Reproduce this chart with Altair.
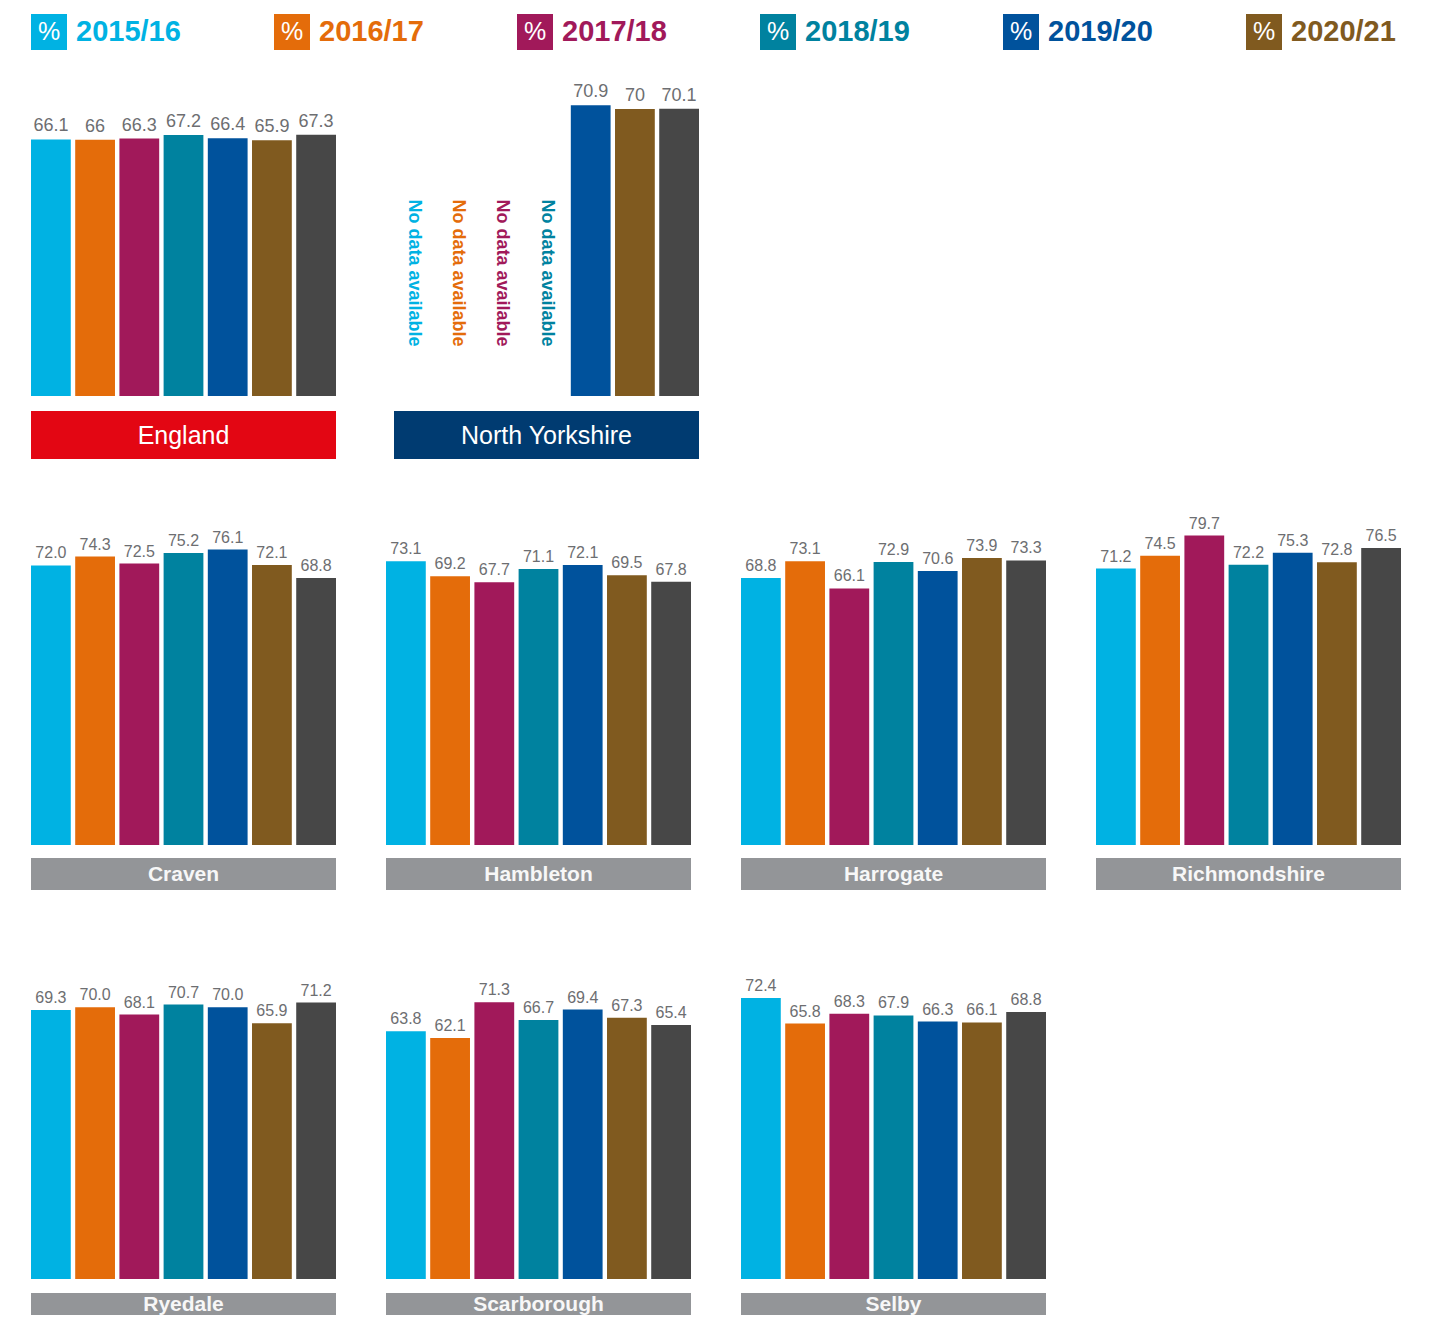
import altair as alt
import pandas as pd

# ---------------- data ----------------
years = ["2015/16", "2016/17", "2017/18", "2018/19", "2019/20", "2020/21", "2021/22"]
year_colors = ["#00B2E3", "#E46C0A", "#A1195A", "#00829F", "#00529C", "#805A1F", "#474747"]
legend_years = years[:6]

england = [66.1, 66, 66.3, 67.2, 66.4, 65.9, 67.3]
north_yorkshire = [None, None, None, None, 70.9, 70, 70.1]
craven = [72.0, 74.3, 72.5, 75.2, 76.1, 72.1, 68.8]
hambleton = [73.1, 69.2, 67.7, 71.1, 72.1, 69.5, 67.8]
harrogate = [68.8, 73.1, 66.1, 72.9, 70.6, 73.9, 73.3]
richmondshire = [71.2, 74.5, 79.7, 72.2, 75.3, 72.8, 76.5]
ryedale = [69.3, 70.0, 68.1, 70.7, 70.0, 65.9, 71.2]
scarborough = [63.8, 62.1, 71.3, 66.7, 69.4, 67.3, 65.4]
selby = [72.4, 65.8, 68.3, 67.9, 66.3, 66.1, 68.8]

no_data_text = "No data available"

# ---------------- style ----------------
FONT = "Liberation Sans, Arial, Helvetica, sans-serif"
LABEL_GREY = "#6D6E71"
BANNER_GREY = "#939598"
W = 305
H = 330
YMAX = 85


def x_enc():
    return alt.X("year:N", sort=years,
                 scale=alt.Scale(domain=years, paddingInner=0.1, paddingOuter=0),
                 axis=None)


def bars_chart(values, fmt, label_size, nodata=False, ymax=YMAX):
    df = pd.DataFrame([{"year": y, "value": v, "color": c}
                       for y, v, c in zip(years, values, year_colors) if v is not None])
    y = alt.Y("value:Q", scale=alt.Scale(domain=[0, ymax]), axis=None)
    base = alt.Chart(df).encode(x=x_enc(), y=y)
    bars = base.mark_bar().encode(color=alt.Color("color:N", scale=None))
    labels = base.mark_text(baseline="bottom", dy=-4, font=FONT, fontSize=label_size,
                            color=LABEL_GREY).encode(
        text=alt.Text("value:Q", format=fmt))
    layers = [bars, labels]
    if nodata:
        nd = pd.DataFrame([{"year": yy, "color": c, "note": no_data_text}
                           for yy, v, c in zip(years, values, year_colors) if v is None])
        notes = alt.Chart(nd).mark_text(angle=90, font=FONT, fontSize=18, fontWeight="bold",
                                        baseline="middle", align="center").encode(
            x=x_enc(), y=alt.value(207), text="note:N",
            color=alt.Color("color:N", scale=None))
        layers.append(notes)
    return alt.layer(*layers).properties(width=W, height=H)


def banner(name, fill, h, size, weight, textcolor):
    df = pd.DataFrame({"name": [name]})
    rect = alt.Chart(df).mark_rect(color=fill).encode(
        x=alt.value(0), x2=alt.value(W), y=alt.value(0), y2=alt.value(h))
    txt = alt.Chart(df).mark_text(font=FONT, fontSize=size, fontWeight=weight,
                                  color=textcolor, baseline="middle", align="center").encode(
        x=alt.value(W / 2), y=alt.value(h / 2 + 1), text="name:N")
    return alt.layer(rect, txt).properties(width=W, height=h)


def panel(name, values, fill, fmt, bh, gap, nodata=False, big=False, ymax=YMAX):
    if big:
        b = banner(name, fill, bh, 25, "normal", "#FFFFFF")
        bc = bars_chart(values, fmt, 18, nodata, ymax)
    else:
        b = banner(name, fill, bh, 21, "bold", "#F7F7F7")
        bc = bars_chart(values, fmt, 16, nodata, ymax)
    return alt.vconcat(bc, b, spacing=gap)


# ---------------- legend ----------------
leg_df = pd.DataFrame({"idx": list(range(len(legend_years))), "year": legend_years,
                       "color": year_colors[:6], "pct": ["%"] * 6})
lx = alt.X("idx:Q", scale=alt.Scale(domain=[0, 5], range=[18, 1233]), axis=None)
leg_base = alt.Chart(leg_df).encode(x=lx, y=alt.value(24))
leg_sq = leg_base.mark_square(size=1296, opacity=1, filled=True).encode(
    color=alt.Color("color:N", scale=None))
leg_pct = leg_base.mark_text(font=FONT, fontSize=25, color="white",
                             baseline="middle", align="center").encode(text="pct:N")
leg_txt = leg_base.mark_text(font=FONT, fontSize=29, align="left", baseline="middle",
                             dx=27, fontWeight="bold").encode(
    text="year:N", color=alt.Color("color:N", scale=None))
legend = alt.layer(leg_sq, leg_pct, leg_txt).properties(width=1240, height=44)

# ---------------- rows ----------------
row1 = alt.hconcat(
    panel("England", england, "#E30613", ".1~f", 48, 15, big=True),
    panel("North Yorkshire", north_yorkshire, "#003B71", ".1~f", 48, 15, nodata=True,
          big=True, ymax=80.5),
    spacing=58)
row2 = alt.hconcat(
    panel("Craven", craven, BANNER_GREY, ".1f", 32, 13),
    panel("Hambleton", hambleton, BANNER_GREY, ".1f", 32, 13),
    panel("Harrogate", harrogate, BANNER_GREY, ".1f", 32, 13),
    panel("Richmondshire", richmondshire, BANNER_GREY, ".1f", 32, 13),
    spacing=50)
row3 = alt.hconcat(
    panel("Ryedale", ryedale, BANNER_GREY, ".1f", 22, 14),
    panel("Scarborough", scarborough, BANNER_GREY, ".1f", 22, 14),
    panel("Selby", selby, BANNER_GREY, ".1f", 22, 14),
    spacing=50)

top = alt.vconcat(legend, row1, spacing=14)
bottom = alt.vconcat(row2, row3, spacing=59)

chart = alt.vconcat(top, bottom, spacing=56).properties(
    padding={"left": 23, "top": 0, "right": 5, "bottom": 0}
).configure_view(stroke=None)

chart.save("out.html", embed_options={"renderer": "svg", "actions": False})
